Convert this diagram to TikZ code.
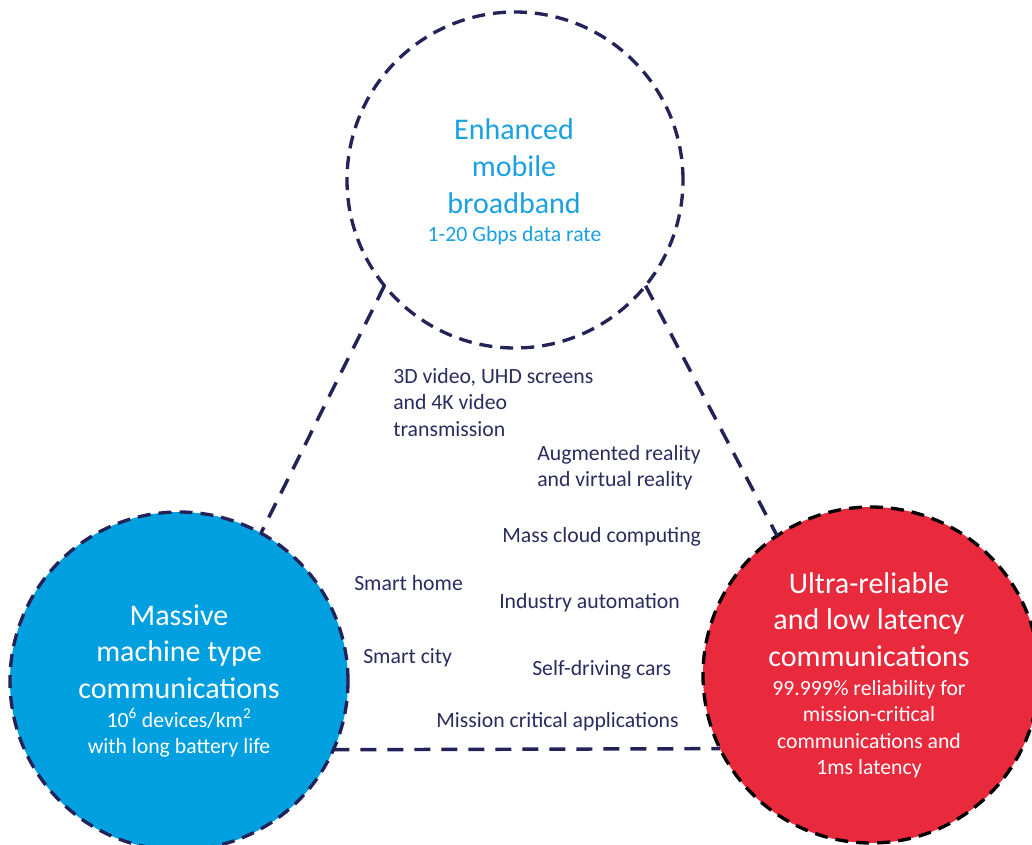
\documentclass[tikz,border=0pt]{standalone}
\usepackage{fontspec}
\setmainfont{Carlito}
\definecolor{navyline}{RGB}{35,35,90}
\definecolor{labelnavy}{RGB}{42,44,96}
\definecolor{embbblue}{RGB}{27,161,226}
\definecolor{mmtcblue}{RGB}{0,159,223}
\definecolor{urllcred}{RGB}{233,41,60}
\newcommand{\mlc}[1]{\begin{tabular}[t]{@{}c@{}}#1\end{tabular}}
\newcommand{\mll}[1]{\begin{tabular}[t]{@{}l@{}}#1\end{tabular}}
\newcommand{\fTitle}{\fontsize{22.5}{27.4}\selectfont}
\newcommand{\fSub}{\fontsize{16.3}{19.9}\selectfont}
\tikzset{
  circdash/.style={line width=2.5pt, dash pattern=on 9.75pt off 6pt},
  linkdash/.style={draw=navyline, line width=2.6pt, dash pattern=on 12pt off 8.25pt},
  bigcirc/.style={circle, inner sep=0pt, outer sep=0pt, circdash},
  ttltext/.style={font=\fTitle, inner sep=0pt, anchor=base},
  subtext/.style={font=\fSub, inner sep=0pt, anchor=base},
  lbl/.style={font=\fSub, text=labelnavy, inner sep=0pt, anchor=base west}
}
\begin{document}
\begin{tikzpicture}[x=0.75pt,y=-0.75pt]
\clip (0,0) rectangle (1032,845);
\fill[white] (0,0) rectangle (1032,845);

% circles
\node[bigcirc, draw=navyline, fill=white, minimum size=252pt] (embb) at (515,180) {};
\node[bigcirc, draw=navyline, fill=mmtcblue, minimum size=253.5pt] (mmtc) at (179,681) {};
\node[bigcirc, draw=black, fill=urllcred, minimum size=252pt] (urllc) at (871,675) {};

% connectors
\draw[linkdash] (embb.219) -- (mmtc.61.5);
\draw[linkdash] (embb.321) -- (urllc.124);
\draw[linkdash] (mmtc.-24.5) -- (urllc.206.9);

% circle texts
\node[ttltext, text=embbblue] (embbT) at (514,140) {\mlc{Enhanced\\mobile\\broadband}};
\node[subtext, text=embbblue] (embbS) at (514.5,242) {\mlc{1-20 Gbps data rate}};

\node[ttltext, text=white] (mmtcT) at (179,625) {\mlc{Massive\\machine type\\communications}};
\node[subtext, text=white] (mmtcS) at (179,727) {\mlc{10\textsuperscript{6} devices/km\textsuperscript{2}\\with long battery life}};

\node[ttltext, text=white] (urllcT) at (869,593) {\mlc{Ultra-reliable\\and low latency\\communications}};
\node[subtext, text=white] (urllcS) at (869,695) {\mlc{99.999\% reliability for\\mission-critical\\communications and\\1ms latency}};

% use-case labels
\node[lbl] (l3d) at (393,383) {\mll{3D video, UHD screens\\and 4K video\\transmission}};
\node[lbl] (lar) at (537,460) {\mll{Augmented reality\\and virtual reality}};
\node[lbl] (lcloud) at (502,542) {Mass cloud computing};
\node[lbl] (lhome) at (354,590) {Smart home};
\node[lbl] (lind) at (499,608) {Industry automation};
\node[lbl] (lcity) at (363,663) {Smart city};
\node[lbl] (lcars) at (532,675) {Self-driving cars};
\node[lbl] (lmission) at (436,727) {Mission critical applications};
\end{tikzpicture}
\end{document}
